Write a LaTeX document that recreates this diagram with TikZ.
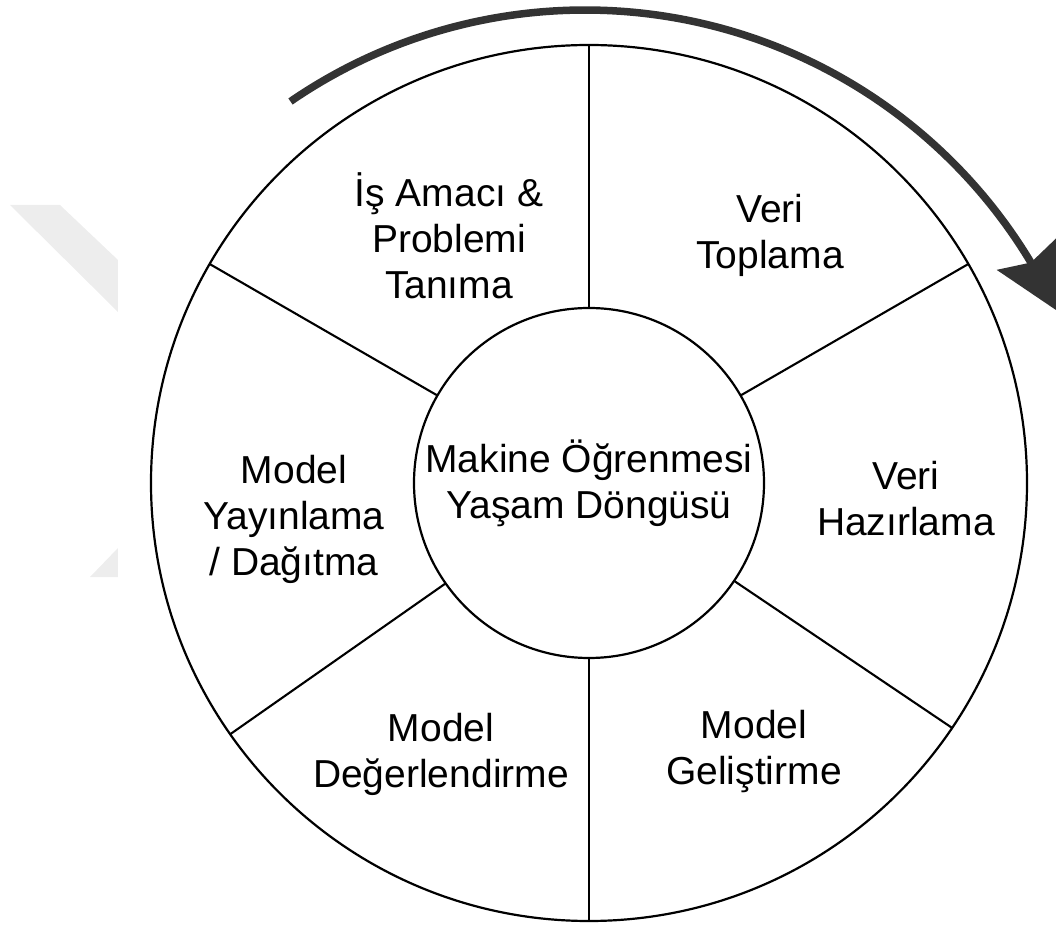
\documentclass[tikz,border=0pt]{standalone}
\usepackage{fontspec}
\setmainfont{Liberation Sans}
\usetikzlibrary{arrows.meta,bending}
\definecolor{arrowgray}{RGB}{51,51,51}
\definecolor{markgray}{RGB}{237,237,237}
\begin{document}
\begin{tikzpicture}[x=1pt,y=1pt,
    ring/.style={draw=black,line width=2.2pt,circle,inner sep=0pt,outer sep=0pt,fill=white},
    spoke/.style={draw=black,line width=2.1pt},
    phase/.style={align=center,inner sep=0pt,font=\fontsize{39}{46}\selectfont},
    cycle arrow/.style={draw=arrowgray,line width=7.5pt,
      -{Stealth[length=63pt,width=66pt,inset=9pt]}}]
  \useasboundingbox (-589,-442) rectangle (467,483);
  % faint background chevron
  \fill[markgray] (-579,278) -- (-529,278) -- (-471,223) -- (-471,171) -- cycle;
  \fill[markgray] (-499,-94) -- (-471,-65) -- (-471,-94) -- cycle;
  % outer ring and hub
  \node[ring,minimum size=876pt] (rim) at (0,0) {};
  \node[ring,minimum size=350pt,font=\fontsize{39}{46}\selectfont,align=center]
    (hub) at (0,0) {Makine Öğrenmesi\\Yaşam Döngüsü};
  % spokes between hub and ring
  \foreach \a in {90,30,326,270,215,150}
    \draw[spoke] (hub.\a) -- (rim.\a);
  % phase labels
  \node[phase] (goal)   at (-140,247)  {İş Amacı \&\\Problemi\\Tanıma};
  \node[phase] (collect) at (181,247.5) {Veri\\Toplama};
  \node[phase] (prep)   at (317,-15.5) {Veri\\Hazırlama};
  \node[phase] (build)  at (165,-268)  {Model\\Geliştirme};
  \node[phase] (eval)   at (-148,-271) {Model\\Değerlendirme};
  \node[phase] (deploy) at (-295,-36)  {Model\\Yayınlama\\/ Dağıtma};
  % direction of the cycle
  \coordinate (arcstart) at ({-4+520*cos(124.5)},{-47+520*sin(124.5)});
  \draw[cycle arrow] (arcstart) arc[start angle=124.5,end angle=25,radius=520];
\end{tikzpicture}
\end{document}
